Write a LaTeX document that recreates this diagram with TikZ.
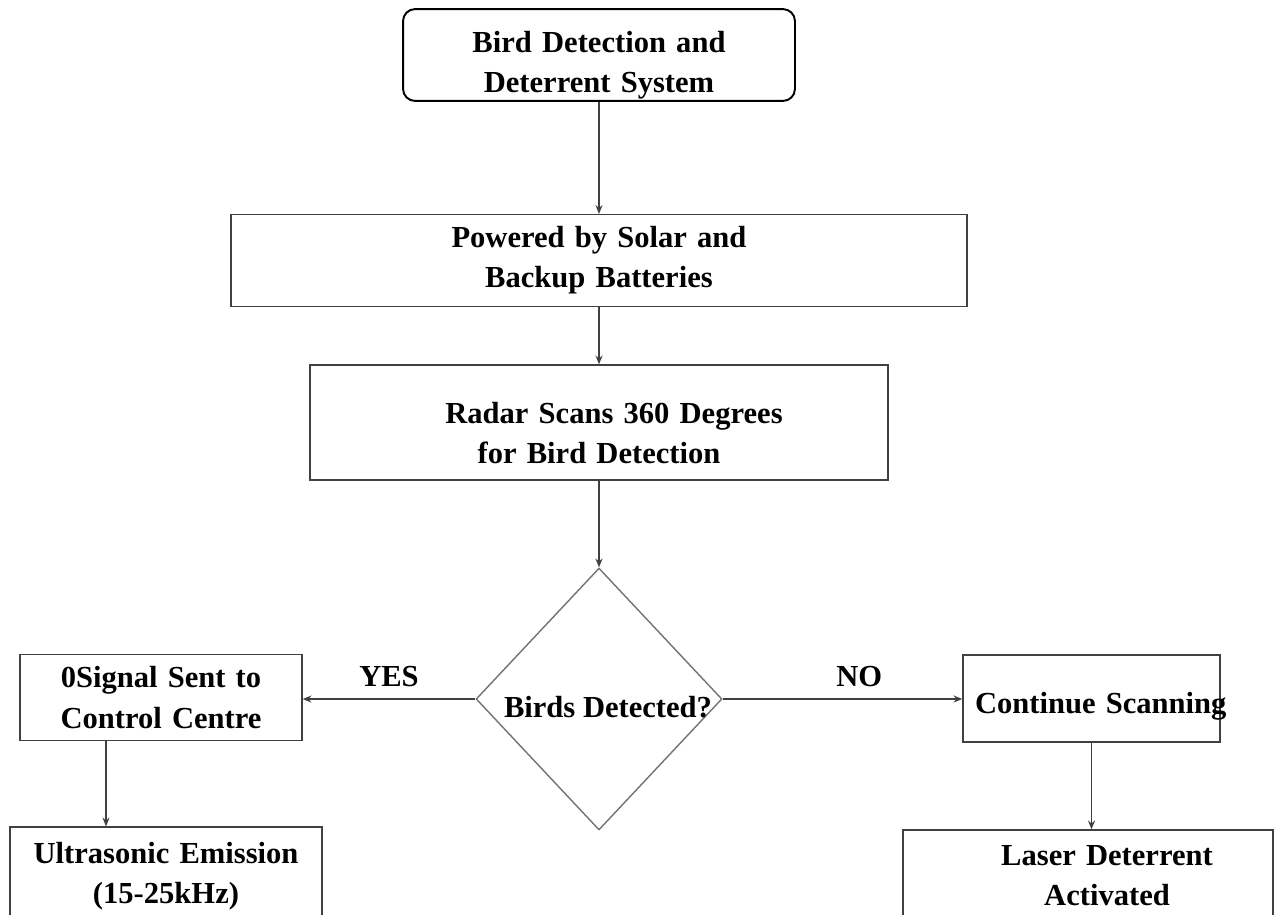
\documentclass[tikz,border=0pt]{standalone}
\usepackage{fontspec}
\setmainfont{Liberation Serif}
\usetikzlibrary{shapes.geometric,arrows.meta}

\newcommand{\flowfont}{\fontsize{17.4}{22.8}\selectfont\bfseries}
% shift a block of lines down without changing its size
\newcommand{\lowered}[3]{\raisebox{-#1}[\height][\depth]{\parbox{#2}{\centering #3}}}

\tikzset{
  box/.style={draw=black!75, line width=0.8pt, rectangle, align=center, inner sep=0.24cm, font=\flowfont},
  startbox/.style={box, draw=black, line width=1.1pt, rounded corners=0.24cm},
  decision/.style={draw=black!55, line width=0.8pt, diamond, inner sep=0pt},
  arr/.style={draw=black!75, line width=0.8pt, -{Stealth[length=5pt,width=4pt]}},
  branch/.style={font=\flowfont, above=0.12cm}
}

\begin{document}
\begin{tikzpicture}[x=0.02cm, y=-0.02cm]

    % Page
    \useasboundingbox (0,0) rectangle (1278,914);
    \clip (0,0) rectangle (1278,914);

    % Main column
    \node[startbox, minimum width=7.84cm, minimum height=1.8cm, text width=7.36cm] (sys) at (599,55) {\lowered{0.2cm}{7.36cm}{Bird Detection and\\Deterrent System}};
    \node[box, minimum width=14.72cm, minimum height=1.7cm, text width=14.24cm] (power) at (599,260.5) {Powered by Solar and\\Backup Batteries};
    \node[box, minimum width=11.56cm, minimum height=2.3cm, text width=11.08cm] (radar) at (599,422.5) {\lowered{0.22cm}{11.08cm}{\hspace*{0.6cm}Radar Scans 360 Degrees\\ for Bird Detection}};
    \node[decision, minimum width=4.92cm, minimum height=5.24cm,
          label={[font=\flowfont, xshift=0.18cm, yshift=-0.16cm]center:Birds Detected?}] (birds) at (599,699) {};

    % YES branch
    \node[box, minimum width=5.64cm, minimum height=1.7cm, text width=5.16cm] (signal) at (161,697.5) {0Signal Sent to\\Control Centre};
    \node[box, minimum width=6.24cm, minimum height=1.72cm, text width=5.76cm] (ultra) at (166,873) {\lowered{0.06cm}{5.76cm}{Ultrasonic Emission\\(15-25kHz)}};

    % NO branch
    \node[box, minimum width=5.14cm, minimum height=1.74cm, text width=4.66cm, align=left] (scan) at (1091.5,698.5) {\raisebox{-0.16cm}[\height][\depth]{\mbox{Continue Scanning}}};
    \node[box, minimum width=7.4cm, minimum height=1.72cm, text width=6.92cm] (laser) at (1088,873) {\lowered{0.06cm}{6.92cm}{\hspace*{0.76cm}Laser Deterrent\\\hspace*{0.76cm}Activated}};

    % Connectors
    \draw[arr] (sys.south) -- (power.north);
    \draw[arr] (power.south) -- (radar.north);
    \draw[arr] (radar.south) -- (birds.north);
    \draw[arr] (birds.west) -- node[branch] {YES} (birds.west -| signal.east);
    \draw[arr] (birds.east) -- node[branch, pos=0.57] {NO} (birds.east -| scan.west);
    \draw[arr] ([xshift=-1.1cm]signal.south) -- ([xshift=-1.1cm]signal.south |- ultra.north);
    \draw[arr] (scan.south) -- (scan.south |- laser.north);

\end{tikzpicture}
\end{document}
